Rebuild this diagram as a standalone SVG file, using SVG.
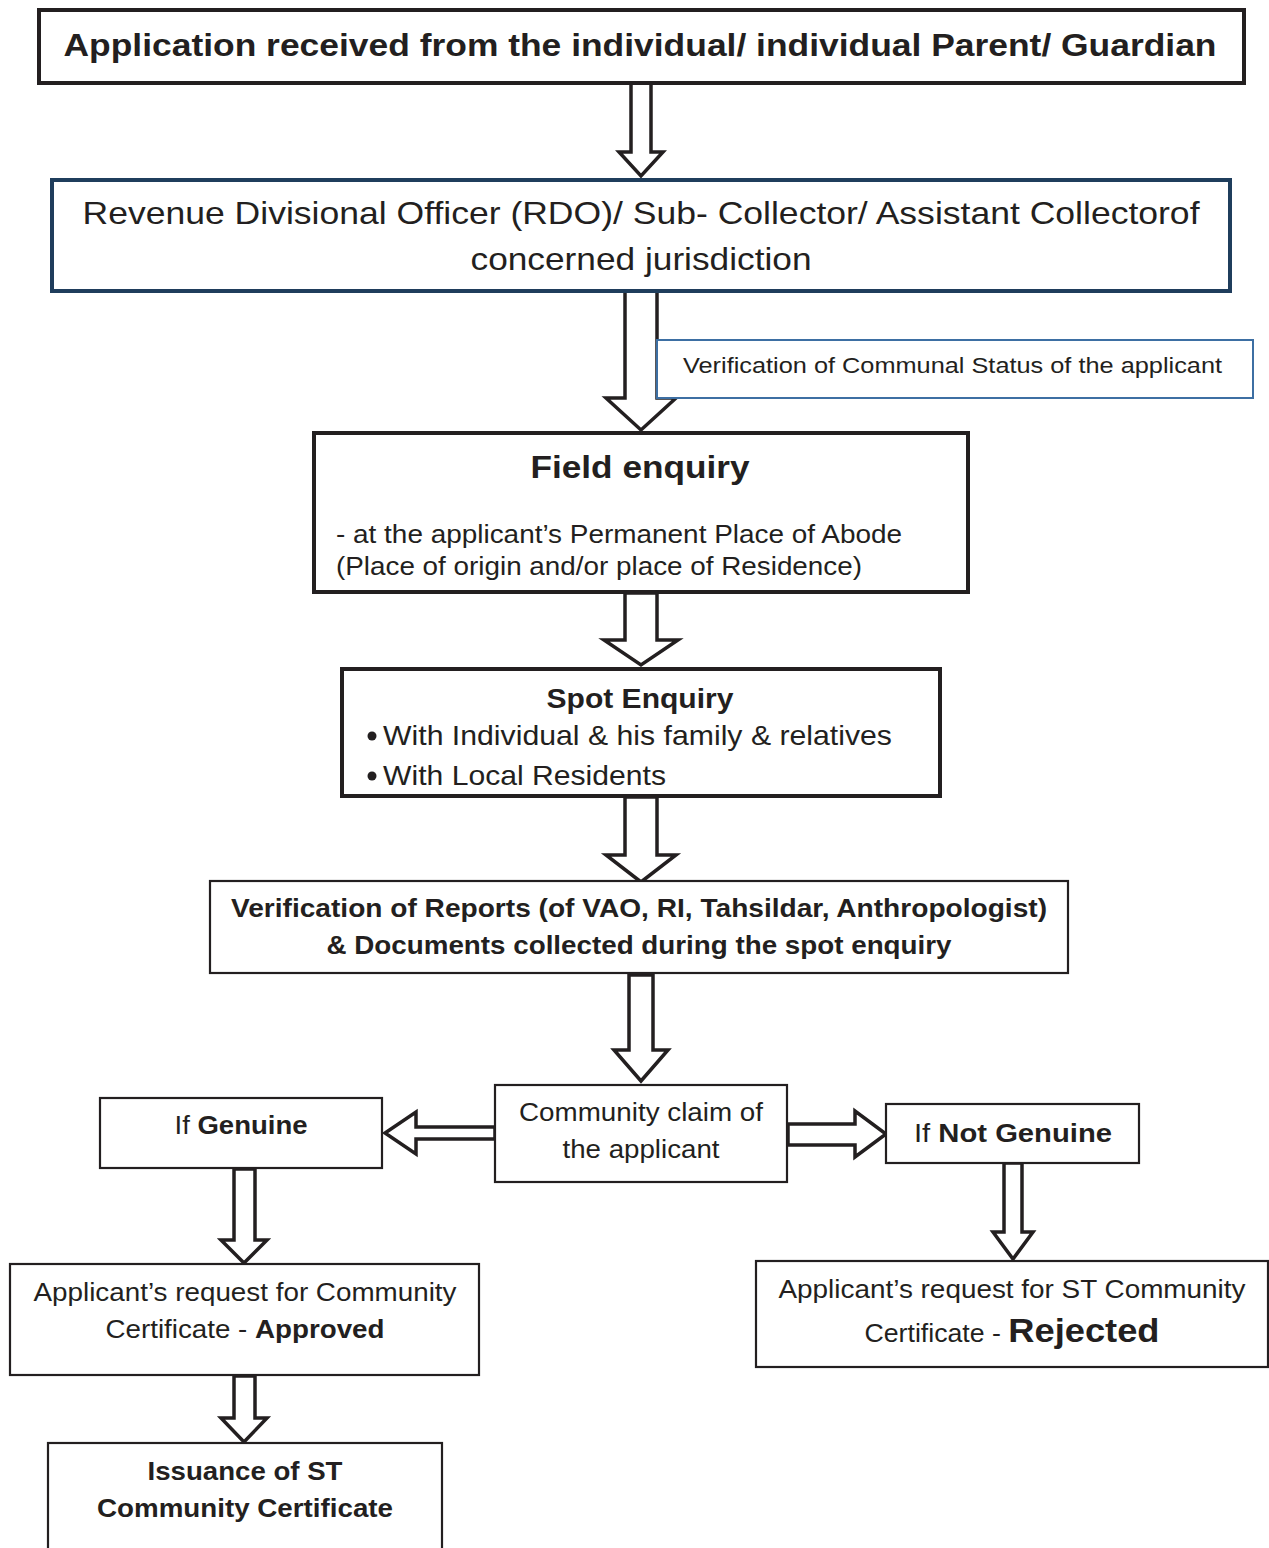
<svg xmlns="http://www.w3.org/2000/svg" width="1269" height="1548" viewBox="0 0 1269 1548">
<style>
text{font-family:"Liberation Sans",Arial,sans-serif;fill:#231f20}
.b{font-weight:bold}
.box{fill:#fff;stroke:#231f20}
.thick{stroke-width:4}
.thin{stroke-width:2.2}
.arr{fill:#fff;stroke:#231f20;stroke-width:3.5;stroke-linejoin:miter}
</style>
<rect width="1269" height="1548" fill="#fff"/>
<g id="connectors">
<polygon class="arr" points="631,82 651,82 651,152 663,152 641,176 619,152 631,152"/>
<polygon class="arr" points="625,291 657,291 657,398 676,398 641,430 606,398 625,398"/>
<polygon class="arr" points="625,593 657,593 657,640 678,640 641,665 604,640 625,640"/>
<polygon class="arr" points="625,797 657,797 657,855 676,855 641,882 606,855 625,855"/>
<polygon class="arr" points="629,975 653,975 653,1050 668,1050 641,1081 614,1050 629,1050"/>
<polygon class="arr" points="495,1127 416,1127 416,1112 385,1133 416,1154 416,1139 495,1139"/>
<polygon class="arr" points="788,1124 855,1124 855,1111 886,1134 855,1157 855,1145 788,1145"/>
<polygon class="arr" points="234,1169 255,1169 255,1240 267,1240 244,1263 221,1240 234,1240"/>
<polygon class="arr" points="1004,1163 1022,1163 1022,1232 1033,1232 1013,1259 993,1232 1004,1232"/>
<polygon class="arr" points="234,1376 255,1376 255,1418 267,1418 244,1442 221,1418 234,1418"/>
</g>
<g id="n1">
<rect class="box thick" x="39" y="10" width="1205" height="73"/>
<text class="b" x="640" y="56" font-size="32" text-anchor="middle" textLength="1153" lengthAdjust="spacingAndGlyphs">Application received from the individual/ individual Parent/ Guardian</text>
</g>
<g id="n2">
<rect x="52" y="180" width="1178" height="111" fill="#fff" stroke="#1f3d5c" stroke-width="4"/>
<text x="641" y="224" font-size="32" text-anchor="middle" textLength="1117" lengthAdjust="spacingAndGlyphs">Revenue Divisional Officer (RDO)/ Sub- Collector/ Assistant Collectorof</text>
<text x="641" y="270" font-size="32" text-anchor="middle" textLength="341" lengthAdjust="spacingAndGlyphs">concerned jurisdiction</text>
</g>
<g id="label-verification">
<rect x="657" y="340" width="596" height="58" fill="#fff" stroke="#3d6fa3" stroke-width="2"/>
<text x="683" y="373" font-size="22" textLength="539" lengthAdjust="spacingAndGlyphs">Verification of Communal Status of the applicant</text>
</g>
<g id="n3">
<rect class="box thick" x="314" y="433" width="654" height="159"/>
<text class="b" x="640" y="478" font-size="32" text-anchor="middle" textLength="219" lengthAdjust="spacingAndGlyphs">Field enquiry</text>
<text x="336" y="543" font-size="26" textLength="566" lengthAdjust="spacingAndGlyphs">- at the applicant’s Permanent Place of Abode</text>
<text x="336" y="575" font-size="26" textLength="526" lengthAdjust="spacingAndGlyphs">(Place of origin and/or place of Residence)</text>
</g>
<g id="n4">
<rect class="box thick" x="342" y="669" width="598" height="127"/>
<text class="b" x="640" y="708" font-size="28" text-anchor="middle" textLength="187" lengthAdjust="spacingAndGlyphs">Spot Enquiry</text>
<circle cx="372" cy="736" r="4.5" fill="#231f20"/>
<text x="383" y="745" font-size="28" textLength="509" lengthAdjust="spacingAndGlyphs">With Individual &amp; his family &amp; relatives</text>
<circle cx="372" cy="776" r="4.5" fill="#231f20"/>
<text x="383" y="785" font-size="28" textLength="283" lengthAdjust="spacingAndGlyphs">With Local Residents</text>
</g>
<g id="n5">
<rect class="box thin" x="210" y="881" width="858" height="92"/>
<text class="b" x="639" y="917" font-size="25" text-anchor="middle" textLength="816" lengthAdjust="spacingAndGlyphs">Verification of Reports (of VAO, RI, Tahsildar, Anthropologist)</text>
<text class="b" x="639" y="954" font-size="25" text-anchor="middle" textLength="625" lengthAdjust="spacingAndGlyphs">&amp; Documents collected during the spot enquiry</text>
</g>
<g id="n6">
<rect class="box thin" x="495" y="1085" width="292" height="97"/>
<text x="641" y="1121" font-size="25" text-anchor="middle" textLength="244" lengthAdjust="spacingAndGlyphs">Community claim of</text>
<text x="641" y="1158" font-size="25" text-anchor="middle" textLength="157" lengthAdjust="spacingAndGlyphs">the applicant</text>
</g>
<g id="n7">
<rect class="box thin" x="100" y="1098" width="282" height="70"/>
<text x="241" y="1134" font-size="25" text-anchor="middle" textLength="133" lengthAdjust="spacingAndGlyphs">If <tspan class="b">Genuine</tspan></text>
</g>
<g id="n8">
<rect class="box thin" x="886" y="1104" width="253" height="59"/>
<text x="1013" y="1142" font-size="26" text-anchor="middle" textLength="198" lengthAdjust="spacingAndGlyphs">If <tspan class="b">Not Genuine</tspan></text>
</g>
<g id="n9">
<rect class="box thin" x="10" y="1264" width="469" height="111"/>
<text x="245" y="1301" font-size="26" text-anchor="middle" textLength="423" lengthAdjust="spacingAndGlyphs">Applicant’s request for Community</text>
<text x="245" y="1338" font-size="26" text-anchor="middle" textLength="279" lengthAdjust="spacingAndGlyphs">Certificate - <tspan class="b">Approved</tspan></text>
</g>
<g id="n10">
<rect class="box thin" x="756" y="1261" width="512" height="106"/>
<text x="1012" y="1298" font-size="26" text-anchor="middle" textLength="467" lengthAdjust="spacingAndGlyphs">Applicant’s request for ST Community</text>
<text x="1012" y="1342" font-size="25" text-anchor="middle" textLength="295" lengthAdjust="spacingAndGlyphs">Certificate - <tspan class="b" font-size="34">Rejected</tspan></text>
</g>
<g id="n11">
<rect class="box thin" x="48" y="1443" width="394" height="120"/>
<text class="b" x="245" y="1480" font-size="26" text-anchor="middle" textLength="195" lengthAdjust="spacingAndGlyphs">Issuance of ST</text>
<text class="b" x="245" y="1517" font-size="26" text-anchor="middle" textLength="296" lengthAdjust="spacingAndGlyphs">Community Certificate</text>
</g>
</svg>
